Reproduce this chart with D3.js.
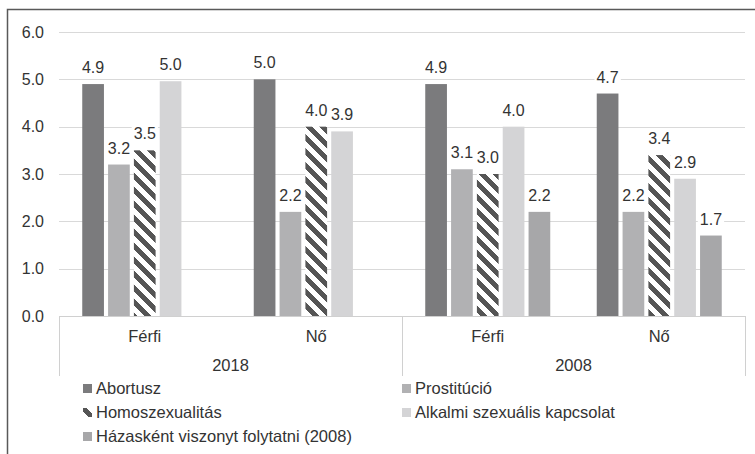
<!DOCTYPE html>
<html>
<head>
<meta charset="utf-8">
<script src="https://cdn.jsdelivr.net/npm/d3@7"></script>
<style>
  html, body { margin: 0; padding: 0; background: #fff; }
  svg { display: block; }
  text { font-family: "Liberation Sans", Arial, sans-serif; fill: #333; }
</style>
</head>
<body>
<svg id="chart" width="755" height="454"></svg>
<script>
// ---- data ----
const groups = ["2018", "2008"];
const genders = ["Férfi", "Nő"];
const seriesNames = ["Abortusz", "Prostitúció", "Homoszexualitás", "Alkalmi szexuális kapcsolat", "Házasként viszonyt folytatni (2008)"];
// values per category: 2018 Férfi, 2018 Nő, 2008 Férfi, 2008 Nő
const abortusz    = [4.9, 5.0, 4.9, 4.7];
const prostitucio = [3.2, 2.2, 3.1, 2.2];
const homoszex    = [3.5, 4.0, 3.0, 3.4];
const alkalmi     = [4.96, 3.9, 4.0, 2.9];
const hazaskent   = [null, null, 2.2, 1.7];
const yTicks = [0, 1, 2, 3, 4, 5, 6];

(function () {
const seriesValues = [abortusz, prostitucio, homoszex, alkalmi, hazaskent];
const colors = ["#7b7b7d", "#b1b1b3", "url(#hatch)", "#d4d4d6", "#a7a7a9"];
const FS = "16.5px";

const svg = d3.select("#chart");

// pattern
const defs = svg.append("defs");
const P = 14;
const pat = defs.append("pattern")
  .attr("id", "hatch").attr("patternUnits", "userSpaceOnUse")
  .attr("width", P).attr("height", P);
pat.append("rect").attr("width", P).attr("height", P).attr("fill", "#fff");
pat.append("path")
  .attr("d", `M-${P/2},-${P/2} L${P*1.5},${P*1.5} M-${P/2},${P/2} L${P/2},${P*1.5} M${P/2},-${P/2} L${P*1.5},${P/2}`)
  .attr("stroke", "#555").attr("stroke-width", 5.2).attr("shape-rendering", "crispEdges");

// outer frame
svg.append("path").attr("d", "M7.5,454 L7.5,9.5 L755,9.5")
  .attr("fill", "none").attr("stroke", "#595959").attr("stroke-width", 1.5);

const pLeft = 59, pRight = 745, pTop = 32, pBottom = 316;
const y = d3.scaleLinear().domain([0, 6]).range([pBottom, pTop]);

const cats = [];
groups.forEach(g => genders.forEach(s => cats.push(g + "|" + s)));
const x0 = d3.scaleBand().domain(cats).range([pLeft, pRight]).padding(0);
const xg = d3.scaleBand().domain(groups).range([pLeft, pRight]).padding(0);
const x1 = d3.scaleBand().domain(seriesNames.map((d, i) => i))
  .range([0, x0.bandwidth()]).paddingInner(0.16).paddingOuter(0.9);

// gridlines
svg.append("g").selectAll("line").data(yTicks.filter(t => t > 0)).join("line")
  .attr("x1", pLeft).attr("x2", pRight)
  .attr("y1", d => Math.round(y(d)) + 0.5).attr("y2", d => Math.round(y(d)) + 0.5)
  .attr("stroke", "#d9d9d9").attr("stroke-width", 1);

// y tick labels
svg.append("g").selectAll("text").data(yTicks).join("text")
  .attr("x", 44).attr("y", d => y(d)).attr("dy", "0.35em")
  .attr("text-anchor", "end").style("font-size", "16px")
  .text(d => d3.format(".1f")(d));

// bars
const barData = [];
seriesValues.forEach((vals, si) => {
  vals.forEach((v, ci) => {
    if (v !== null) barData.push({ si, ci, v });
  });
});
svg.append("g").selectAll("rect").data(barData).join("rect")
  .attr("x", d => x0(cats[d.ci]) + x1(d.si))
  .attr("width", x1.bandwidth())
  .attr("y", d => y(d.v))
  .attr("height", d => y(0) - y(d.v))
  .attr("fill", d => colors[d.si]);

// category axis box
const axG = svg.append("g");
axG.append("line").attr("x1", pLeft).attr("x2", pRight)
  .attr("y1", pBottom + 0.5).attr("y2", pBottom + 0.5)
  .attr("stroke", "#d0d0d0");
const sepXs = [pLeft, xg(groups[1]), pRight];
axG.selectAll("line.sep").data(sepXs).join("line").attr("class", "sep")
  .attr("x1", d => Math.round(d) + 0.5).attr("x2", d => Math.round(d) + 0.5)
  .attr("y1", pBottom).attr("y2", 376)
  .attr("stroke", "#d0d0d0");
axG.selectAll("text.cat").data(cats).join("text").attr("class", "cat")
  .attr("x", d => x0(d) + x0.bandwidth() / 2).attr("y", 342)
  .attr("text-anchor", "middle").style("font-size", FS)
  .text(d => d.split("|")[1]);
axG.selectAll("text.grp").data(groups).join("text").attr("class", "grp")
  .attr("x", d => xg(d) + xg.bandwidth() / 2).attr("y", 371)
  .attr("text-anchor", "middle").style("font-size", FS)
  .text(d => d);

// data labels with white background
const lblG = svg.append("g");
barData.forEach(d => {
  const cx = x0(cats[d.ci]) + x1(d.si) + x1.bandwidth() / 2;
  const ty = y(d.v) - 11;
  const g = lblG.append("g");
  const t = g.append("text").attr("x", cx).attr("y", ty)
    .attr("text-anchor", "middle").style("font-size", "16px")
    .text(d3.format(".1f")(d.v));
  const bb = t.node().getBBox();
  g.insert("rect", "text")
    .attr("x", bb.x - 2).attr("y", bb.y + 1)
    .attr("width", bb.width + 4).attr("height", bb.height - 1)
    .attr("fill", "#fff");
});

// legend
const legPos = [
  { x: 83, y: 384 }, { x: 402, y: 384 },
  { x: 83, y: 408 }, { x: 402, y: 408 },
  { x: 83, y: 432 }
];
const leg = svg.append("g").selectAll("g").data(seriesNames).join("g")
  .attr("transform", (d, i) => `translate(${legPos[i].x},${legPos[i].y})`);
leg.append("rect").attr("width", 9).attr("height", 9)
  .attr("fill", (d, i) => colors[i]);
leg.append("text").attr("x", 13).attr("y", 10)
  .style("font-size", FS).text(d => d);
})();
</script>
</body>
</html>
